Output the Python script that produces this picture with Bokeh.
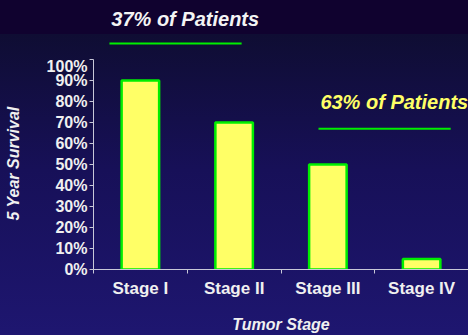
from bokeh.plotting import figure
from bokeh.layouts import column
from bokeh.models import FixedTicker, Label, ColumnDataSource, Range1d
from bokeh.embed import file_html
from bokeh.resources import INLINE

categories = ["Stage I", "Stage II", "Stage III", "Stage IV"]
survival = [90, 70, 50, 5]
y_ticks = [0, 10, 20, 30, 40, 50, 60, 70, 80, 90, 100]
y_tick_labels = [f"{t}%" for t in y_ticks]
group_labels = ["37% of Patients", "63% of Patients"]
x_title = "Tumor Stage"
y_title = "5 Year Survival"

font = "Liberation Sans"
green = "#00ee00"

shared_x = Range1d(0, 4)

# ---- top strip: first group annotation ----
t = figure(width=468, height=57, output_backend="svg", toolbar_location=None,
           x_range=shared_x, y_range=(57, 0),
           min_border_left=93, min_border_right=0, min_border_top=0, min_border_bottom=0)
t.axis.visible = False
t.grid.visible = False
t.background_fill_color = None
t.border_fill_color = None
t.outline_line_color = None
t.add_layout(Label(x=0.19, y=18, text=group_labels[0],
                   text_align="left", text_baseline="middle",
                   text_color="#f4f4f4", text_font=font, text_font_style="bold italic",
                   text_font_size="20px"))
t.line(x=[0.17, 1.58], y=[43, 43], line_color=green, line_width=2)

# ---- main chart ----
xs = [i + 0.5 for i in range(len(categories))]
src = ColumnDataSource(dict(x=xs, top=survival))

p = figure(width=468, height=278, output_backend="svg", toolbar_location=None,
           x_range=shared_x, y_range=(0, 101.0),
           min_border_left=93, min_border_right=0, min_border_top=0, min_border_bottom=66)
p.background_fill_color = None
p.border_fill_color = None
p.outline_line_color = None
p.grid.visible = False

p.vbar(x="x", top="top", width=0.4, bottom=0, source=src,
       fill_color="#ffff66", line_color=green, line_width=2.5)

p.xaxis.ticker = FixedTicker(ticks=xs, minor_ticks=list(range(len(categories) + 1)))
p.xaxis.major_label_overrides = {x: c for x, c in zip(xs, categories)}
p.xaxis.major_tick_out = 0
p.xaxis.major_tick_in = 0
p.xaxis.minor_tick_out = 4
p.xaxis.minor_tick_in = 0
p.xaxis.major_label_standoff = 5
p.xaxis.major_label_text_font_size = "17px"
p.xaxis.axis_label = x_title
p.xaxis.axis_label_standoff = 15

p.yaxis.ticker = FixedTicker(ticks=y_ticks)
p.yaxis.bounds = (0, 100)
p.yaxis.major_label_overrides = {v: l for v, l in zip(y_ticks, y_tick_labels)}
p.yaxis.major_tick_out = 4
p.yaxis.major_tick_in = 0
p.yaxis.minor_tick_out = 0
p.yaxis.minor_tick_in = 0
p.yaxis.major_label_standoff = 2
p.yaxis.major_label_text_font_size = "16px"
p.yaxis.axis_label = y_title
p.yaxis.axis_label_standoff = 22

for ax in (p.xaxis, p.yaxis):
    ax.axis_line_color = "#c8c8d8"
    ax.major_tick_line_color = "#c8c8d8"
    ax.minor_tick_line_color = "#c8c8d8"
    ax.major_label_text_color = "#f0f0f0"
    ax.major_label_text_font = font
    ax.major_label_text_font_style = "bold"
    ax.axis_label_text_color = "#f0f0f0"
    ax.axis_label_text_font = font
    ax.axis_label_text_font_style = "bold italic"
    ax.axis_label_text_font_size = "16px"

p.add_layout(Label(x=2.42, y=79.7, text=group_labels[1],
                   text_align="left", text_baseline="middle",
                   text_color="#ffff66", text_font=font, text_font_style="bold italic",
                   text_font_size="20px"))
p.line(x=[2.4, 3.81], y=[67.1, 67.1], line_color=green, line_width=2)

page = column(t, p, spacing=0)
page.styles = {"background": "linear-gradient(to bottom, #10022f 0px, #10022f 34px, #0f0d33 34px, #171058 170px, #1e1670 335px)"}

open("out.html", "w").write(file_html(page, INLINE))
